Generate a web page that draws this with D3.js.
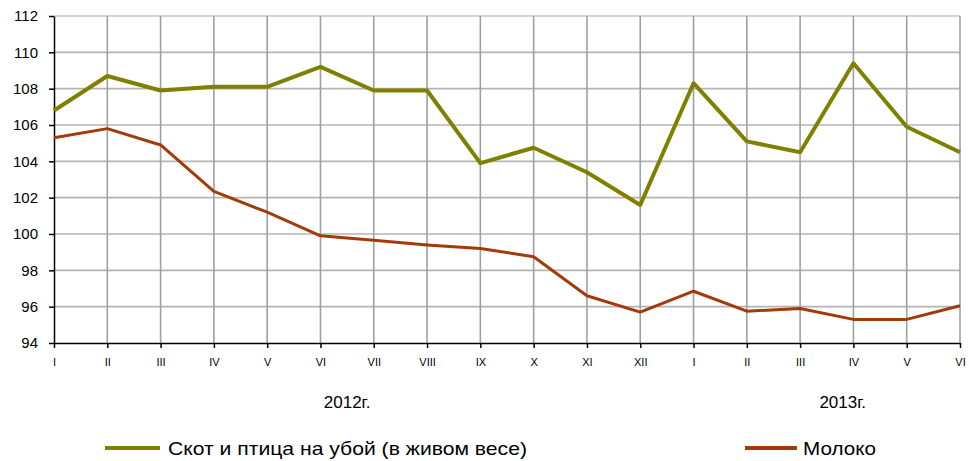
<!doctype html>
<html lang="ru">
<head>
<meta charset="utf-8">
<title>Скот и птица, молоко</title>
<script src="https://cdn.jsdelivr.net/npm/d3@7/dist/d3.min.js"></script>
<style>
  body { margin: 0; background: #fff; }
  svg { display: block; font-family: "Liberation Sans", Arial, sans-serif; }
</style>
</head>
<body>
<svg id="chart" width="969" height="461"></svg>
<script>
// months of 2012 (12) and 2013 (6)
var months = ["I","II","III","IV","V","VI","VII","VIII","IX","X","XI","XII",
              "I","II","III","IV","V","VI"];
var years = [{label: "2012г.", at: 5.5}, {label: "2013г.", at: 14.8}];

var skot = [106.8, 108.7, 107.9, 108.1, 108.1, 109.2, 107.9, 107.9, 103.9, 104.75,
            103.4, 101.6, 108.3, 105.1, 104.5, 109.4, 105.9, 104.5];
var moloko = [105.3, 105.8, 104.9, 102.35, 101.2, 99.9, 99.65, 99.4, 99.2, 98.75,
              96.6, 95.7, 96.85, 95.75, 95.9, 95.3, 95.3, 96.05];

var yTicks = d3.range(94, 113, 2);

var series = [
  {name: "Скот и птица на убой (в живом весе)", values: skot, color: "#808000", width: 4},
  {name: "Молоко", values: moloko, color: "#a33a0a", width: 3}
];

var svg = d3.select("#chart");
var pLeft = 54, pRight = 960, pTop = 16, pBottom = 343;

var x = d3.scalePoint().domain(d3.range(months.length)).range([pLeft, pRight]);
var xLin = d3.scaleLinear().domain([0, months.length - 1]).range([pLeft, pRight]);
var y = d3.scaleLinear().domain([94, 112]).range([pBottom, pTop]);

// horizontal grid
svg.append("g")
  .selectAll("line")
  .data(yTicks.filter(d => d > 94))
  .join("line")
  .attr("x1", pLeft).attr("x2", pRight)
  .attr("y1", d => y(d)).attr("y2", d => y(d))
  .attr("stroke", d => d == 112 ? "#c4c4c4" : "#b4b4b4")
  .attr("stroke-width", 1.6);

// vertical grid
svg.append("g")
  .selectAll("line")
  .data(d3.range(1, months.length))
  .join("line")
  .attr("x1", d => x(d)).attr("x2", d => x(d))
  .attr("y1", pTop).attr("y2", pBottom)
  .attr("stroke", "#a0a0a0")
  .attr("stroke-width", 1.6);

// y axis
var yAxis = svg.append("g")
  .attr("transform", "translate(" + pLeft + ",0)")
  .call(d3.axisLeft(y).tickValues(yTicks).tickSize(5).tickSizeOuter(0).tickPadding(11).tickFormat(d3.format("d")));
yAxis.selectAll("path, line").attr("stroke", "#000").attr("stroke-width", 1.5);
yAxis.selectAll("text").attr("font-size", 15).attr("fill", "#000")
  .attr("font-family", "Liberation Sans, Arial, sans-serif");

// x axis
var xAxis = svg.append("g")
  .attr("transform", "translate(0," + pBottom + ")")
  .call(d3.axisBottom(x).tickSize(5).tickSizeOuter(0).tickPadding(10).tickFormat(i => months[i]));
xAxis.selectAll("path, line").attr("stroke", "#000").attr("stroke-width", 1.5);
xAxis.selectAll("text").attr("font-size", 11).attr("fill", "#000")
  .attr("font-family", "Liberation Sans, Arial, sans-serif");

// years
svg.append("g")
  .selectAll("text")
  .data(years)
  .join("text")
  .attr("x", d => xLin(d.at))
  .attr("y", 408)
  .attr("text-anchor", "middle")
  .attr("font-size", 17)
  .attr("fill", "#000")
  .text(d => d.label);

// lines
var line = d3.line().x((d, i) => x(i)).y(d => y(d));
svg.append("g")
  .selectAll("path")
  .data(series)
  .join("path")
  .attr("d", d => line(d.values))
  .attr("fill", "none")
  .attr("stroke", d => d.color)
  .attr("stroke-width", d => d.width)
  .attr("stroke-linejoin", "round");

// legend
var legendX = [105, 745];
var legend = svg.append("g")
  .selectAll("g")
  .data(series)
  .join("g")
  .attr("transform", (d, i) => "translate(" + legendX[i] + ",448)");
legend.append("line")
  .attr("x1", 0).attr("x2", (d, i) => i == 0 ? 55 : 52)
  .attr("stroke", d => d.color)
  .attr("stroke-width", 4);
legend.append("text")
  .attr("x", (d, i) => i == 0 ? 63 : 58)
  .attr("y", 7)
  .attr("font-size", 19)
  .attr("fill", "#000")
  .attr("textLength", (d, i) => i == 0 ? 359 : 73)
  .attr("lengthAdjust", "spacingAndGlyphs")
  .text(d => d.name);
</script>
</body>
</html>
